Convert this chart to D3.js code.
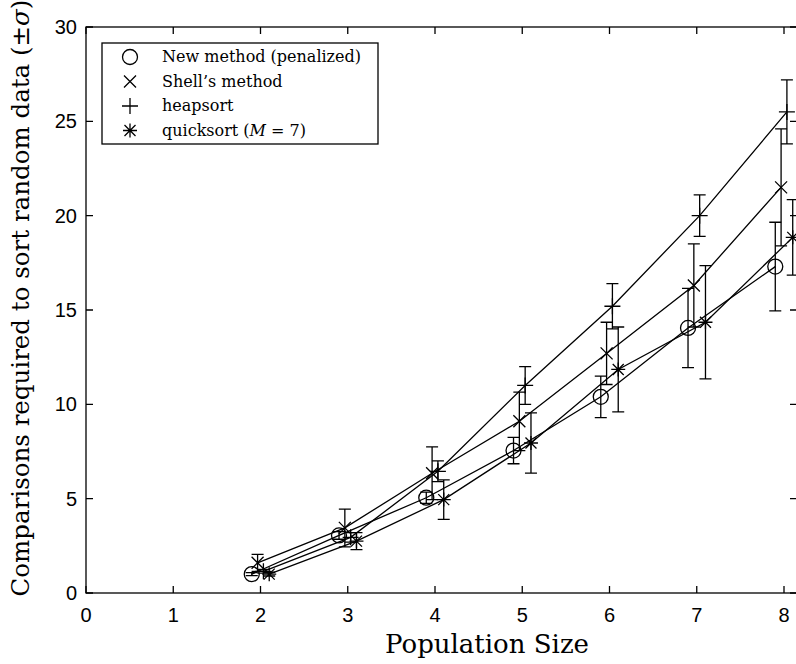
<!DOCTYPE html>
<html>
<head>
<meta charset="utf-8">
<script src="https://cdn.jsdelivr.net/npm/d3@7"></script>
<style>
  body { margin: 0; background: #fff; }
  svg { display: block; }
</style>
</head>
<body>
<div id="chart"></div>
<script>
// Data
const sizes = [2, 3, 4, 5, 6, 7, 8];

const penalized   = [1.0, 3.05, 5.05, 7.55, 10.4, 14.05, 17.3];
const penalizedSd = [0.08, 0.2, 0.3, 0.7, 1.1, 2.1, 2.35];
const shell       = [1.6, 3.45, 6.35, 9.1, 12.7, 16.3, 21.5];
const shellSd     = [0.45, 1.0, 1.4, 1.55, 1.65, 2.2, 3.1];
const heap        = [1.15, 2.95, 6.45, 11.0, 15.2, 20.0, 25.5];
const heapSd      = [0.1, 0.25, 0.55, 1.0, 1.2, 1.1, 1.7];
const quick       = [1.0, 2.75, 4.95, 7.95, 11.85, 14.35, 18.85];
const quickSd     = [0.1, 0.45, 1.05, 1.6, 2.25, 3.0, 2.0];

// small horizontal shift of each series around the population size
const offsets = [-0.1, -1 / 30, 1 / 30, 0.1];

const xTicks = [0, 1, 2, 3, 4, 5, 6, 7, 8];
const yTicks = [0, 5, 10, 15, 20, 25, 30];

const series = [
  { label: "New method (penalized)", mean: penalized, sd: penalizedSd, marker: "circle" },
  { label: "Shell’s method", mean: shell, sd: shellSd, marker: "cross" },
  { label: "heapsort", mean: heap, sd: heapSd, marker: "plus" },
  { label: "quicksort", mean: quick, sd: quickSd, marker: "star" },
];

// Dimensions
const width = 796;
const height = 664;
const margin = { left: 86, top: 27, right: -1, bottom: 71 };

const x = d3.scaleLinear().domain([0, 8]).range([margin.left, 784]);
const y = d3.scaleLinear().domain([0, 30]).range([height - margin.bottom, margin.top]);
const xRight = width - margin.right;

const svg = d3.select("#chart")
  .append("svg")
  .attr("width", width)
  .attr("height", height);

const sans = "'Liberation Sans', Arial, sans-serif";
const serif = "'DejaVu Serif', serif";

// Markers
function drawMarker(g, kind, cx, cy) {
  if (kind === "circle") {
    g.append("circle").attr("cx", cx).attr("cy", cy).attr("r", 7.5)
      .attr("fill", "none");
    return;
  }
  const p = d3.path();
  if (kind === "cross" || kind === "star") {
    const d = kind === "star" ? 5.5 : 6;
    p.moveTo(cx - d, cy - d); p.lineTo(cx + d, cy + d);
    p.moveTo(cx - d, cy + d); p.lineTo(cx + d, cy - d);
  }
  if (kind === "plus" || kind === "star") {
    const d = kind === "star" ? 7 : 8;
    p.moveTo(cx - d, cy); p.lineTo(cx + d, cy);
    p.moveTo(cx, cy - d); p.lineTo(cx, cy + d);
  }
  g.append("path").attr("d", p.toString());
}

const plot = svg.append("g")
  .attr("stroke", "#000")
  .attr("stroke-width", 1.3)
  .attr("fill", "none");

const line = d3.line().x(d => x(d.x)).y(d => y(d.y));

series.forEach((s, i) => {
  const pts = sizes.map((n, j) => ({ x: n + offsets[i], y: s.mean[j], sd: s.sd[j] }));
  const g = plot.append("g");

  g.append("path").attr("d", line(pts));

  // error bars
  const cap = 6;
  pts.forEach(d => {
    const px = x(d.x), top = y(d.y + d.sd), bot = y(d.y - d.sd);
    g.append("path").attr("d",
      `M${px},${top}V${bot}M${px - cap},${top}H${px + cap}M${px - cap},${bot}H${px + cap}`);
  });

  pts.forEach(d => drawMarker(g, s.marker, x(d.x), y(d.y)));
});

// Axes box and ticks (ticks point inward)
const frame = svg.append("g").attr("stroke", "#000").attr("fill", "none").attr("stroke-width", 1.3);
frame.append("rect")
  .attr("x", x(0)).attr("y", y(30))
  .attr("width", xRight - x(0)).attr("height", y(0) - y(30));

const tl = 7;
xTicks.forEach(t => {
  frame.append("path").attr("d", `M${x(t)},${y(0)}v${-tl}M${x(t)},${y(30)}v${tl}`);
});
yTicks.forEach(t => {
  frame.append("path").attr("d", `M${x(0)},${y(t)}h${tl}M${xRight},${y(t)}h${-tl}`);
});

svg.append("g").selectAll("text")
  .data(xTicks)
  .join("text")
  .attr("x", d => x(d))
  .attr("y", y(0) + 29)
  .attr("text-anchor", "middle")
  .style("font-family", sans)
  .style("font-size", "20px")
  .text(d => d);

svg.append("g").selectAll("text")
  .data(yTicks)
  .join("text")
  .attr("x", x(0) - 9)
  .attr("y", d => y(d) + 7)
  .attr("text-anchor", "end")
  .style("font-family", sans)
  .style("font-size", "20px")
  .text(d => d);

// Axis labels
svg.append("text")
  .attr("x", 487)
  .attr("y", 653)
  .attr("text-anchor", "middle")
  .style("font-family", serif)
  .style("font-size", "26px")
  .text("Population Size");

const yl = svg.append("text")
  .attr("transform", `translate(29,${298}) rotate(-90)`)
  .attr("text-anchor", "middle")
  .style("font-family", serif)
  .style("font-size", "24.5px");
yl.append("tspan").text("Comparisons required to sort random data (±");
yl.append("tspan").style("font-style", "italic").text("σ");
yl.append("tspan").text(")");

// Legend
const legend = svg.append("g");
legend.append("rect")
  .attr("x", 102).attr("y", 43)
  .attr("width", 276).attr("height", 101)
  .attr("fill", "#fff")
  .attr("stroke", "#000")
  .attr("stroke-width", 1.3);

series.forEach((s, i) => {
  const ly = 57 + i * 24.5;
  const mg = legend.append("g").attr("stroke", "#000").attr("stroke-width", 1.3).attr("fill", "none");
  drawMarker(mg, s.marker, 130, ly);
  const t = legend.append("text")
    .attr("x", 162)
    .attr("y", ly + 5)
    .style("font-family", serif)
    .style("font-size", "16px")
    .text(s.label);
  if (s.marker === "star") {
    t.append("tspan").text(" (");
    t.append("tspan").style("font-style", "italic").text("M");
    t.append("tspan").text(" = 7)");
  }
});
</script>
</body>
</html>
